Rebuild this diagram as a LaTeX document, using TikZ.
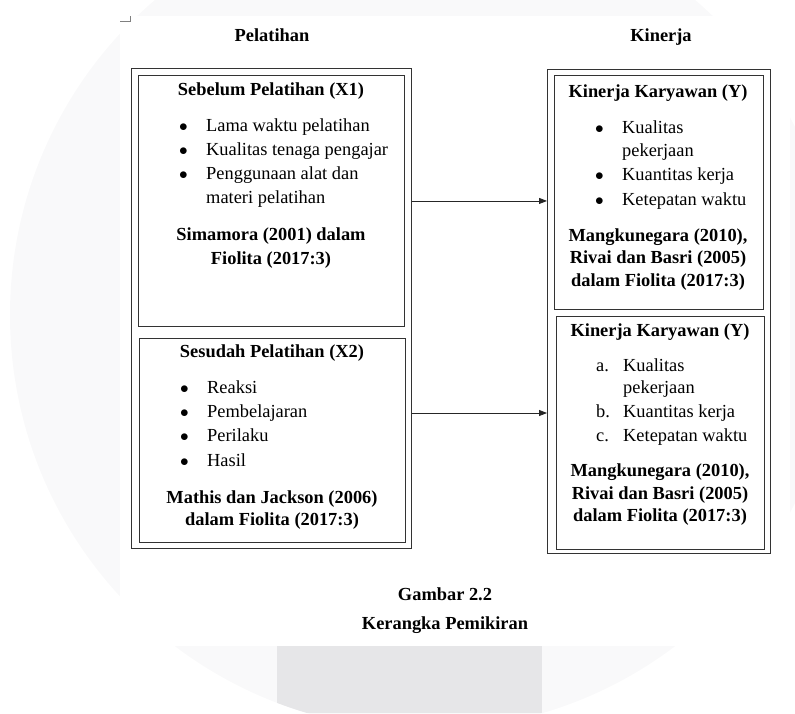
\documentclass[tikz,border=0pt]{standalone}
\usepackage{fontspec}
\setmainfont{Liberation Serif}
\usetikzlibrary{arrows.meta}
\definecolor{band}{HTML}{E6E6E8}
\definecolor{wm}{HTML}{F9F9FA}
\newcommand{\bul}{\makebox[25pt][l]{\hspace{-2pt}$\bullet$}}
\newcommand{\lett}[1]{\makebox[27pt][l]{#1}}

\begin{document}
\begin{tikzpicture}[x=1pt, y=-1pt,
        frame/.style = {draw=black!80, line width=0.9pt, anchor=north west, inner sep=0pt},
        txt/.style = {inner sep=0pt, text height=13pt, text depth=4pt, font=\fontsize{18.4}{22}\selectfont},
        item/.style = {txt, anchor=west},
        head/.style = {txt, font=\fontsize{18.4}{22}\selectfont\bfseries},
        arr/.style = {-{Triangle[length=8pt, width=6pt]}, line width=0.8pt, black!85}]
        \useasboundingbox (0,0) rectangle (795,713);
        \fill[wm] (425,315) circle (415);
        \fill[white] (120,16) rectangle (790,646);
        \begin{scope}
            \clip (425,315) circle (415);
            \fill[band] (277,646) rectangle (542,713);
        \end{scope}
        \draw[black!50, line width=0.6pt] (120,21) -- (130,21) -- (130,16);

        \node[head] (pel) at (272,37) {Pelatihan};
        \node[head] (kin) at (661,37) {Kinerja};

        \node[frame, minimum width=280pt, minimum height=480pt] (outL) at (131,68) {};
        \node[frame, minimum width=266pt, minimum height=251pt] (boxA) at (138,75) {};
        \node[frame, minimum width=266pt, minimum height=204pt] (boxB) at (139,338) {};
        \node[frame, minimum width=223pt, minimum height=484pt] (outR) at (547,69) {};
        \node[frame, minimum width=209pt, minimum height=234pt] (boxC) at (554,75) {};
        \node[frame, minimum width=208pt, minimum height=233pt] (boxD) at (556,316) {};

        \node[head] (sebelum) at (271,91) {Sebelum Pelatihan (X1)};
        \node[item] (lama) at (181,127) {\bul Lama waktu pelatihan};
        \node[item] (tenaga) at (181,151) {\bul Kualitas tenaga pengajar};
        \node[item] (alat) at (181,175) {\bul Penggunaan alat dan};
        \node[item] (materi) at (206,199) {materi pelatihan};
        \node[head] (sim1) at (271,236) {Simamora (2001) dalam};
        \node[head] (sim2) at (271,260) {Fiolita (2017:3)};

        \node[head] (sesudah) at (272,353) {Sesudah Pelatihan (X2)};
        \node[item] (reaksi) at (182,389) {\bul Reaksi};
        \node[item] (pemb) at (182,413) {\bul Pembelajaran};
        \node[item] (perilaku) at (182,437) {\bul Perilaku};
        \node[item] (hasil) at (182,462) {\bul Hasil};
        \node[head] (mat1) at (272,499) {Mathis dan Jackson (2006)};
        \node[head] (mat2) at (272,521) {dalam Fiolita (2017:3)};

        \node[head] (kary1) at (658,93) {Kinerja Karyawan (Y)};
        \node[item] (kual1) at (597,129) {\bul Kualitas};
        \node[item] (pek1) at (622,152) {pekerjaan};
        \node[item] (kuan1) at (597,176) {\bul Kuantitas kerja};
        \node[item] (tep1) at (597,201) {\bul Ketepatan waktu};
        \node[head] (man1) at (658,237) {Mangkunegara (2010),};
        \node[head] (riv1) at (658,259) {Rivai dan Basri (2005)};
        \node[head] (dal1) at (658,282) {dalam Fiolita (2017:3)};

        \node[head] (kary2) at (660,332) {Kinerja Karyawan (Y)};
        \node[item] (kual2) at (596,367) {\lett{a.}Kualitas};
        \node[item] (pek2) at (623,389) {pekerjaan};
        \node[item] (kuan2) at (596,413) {\lett{b.}Kuantitas kerja};
        \node[item] (tep2) at (596,437) {\lett{c.}Ketepatan waktu};
        \node[head] (man2) at (660,472) {Mangkunegara (2010),};
        \node[head] (riv2) at (660,495) {Rivai dan Basri (2005)};
        \node[head] (dal2) at (660,517) {dalam Fiolita (2017:3)};

        \draw[arr] (outL.east |- boxA.east) -- (outR.west |- boxA.east);
        \draw[arr] (outL.east |- pemb) -- (outR.west |- pemb);

        \node[head] (gambar) at (445,596) {Gambar 2.2};
        \node[head] (kerangka) at (445,625) {Kerangka Pemikiran};
    \end{tikzpicture}
\end{document}
